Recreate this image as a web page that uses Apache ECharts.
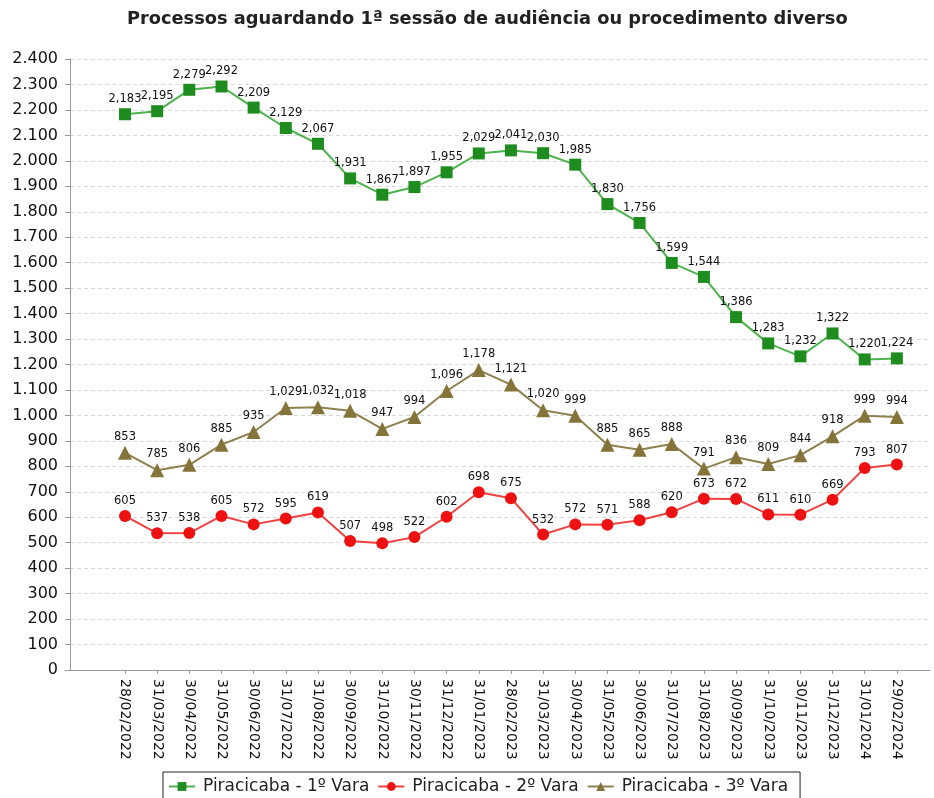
<!DOCTYPE html>
<html>
<head>
<meta charset="utf-8">
<script src="https://cdn.jsdelivr.net/npm/echarts@6/dist/echarts.min.js"></script>
<style>html,body{margin:0;padding:0;background:#fff}#c{width:934px;height:798px}</style>
</head>
<body>
<div id="c"></div>
<script>
const dates = ['28/02/2022','31/03/2022','30/04/2022','31/05/2022','30/06/2022','31/07/2022','31/08/2022','30/09/2022','31/10/2022','30/11/2022','31/12/2022','31/01/2023','28/02/2023','31/03/2023','30/04/2023','31/05/2023','30/06/2023','31/07/2023','31/08/2023','30/09/2023','31/10/2023','30/11/2023','31/12/2023','31/01/2024','29/02/2024'];
const vara1 = [2183,2195,2279,2292,2209,2129,2067,1931,1867,1897,1955,2029,2041,2030,1985,1830,1756,1599,1544,1386,1283,1232,1322,1220,1224];
const vara2 = [605,537,538,605,572,595,619,507,498,522,602,698,675,532,572,571,588,620,673,672,611,610,669,793,807];
const vara3 = [853,785,806,885,935,1029,1032,1018,947,994,1096,1178,1121,1020,999,885,865,888,791,836,809,844,918,999,994];
const seriesNames = ['Piracicaba - 1º Vara','Piracicaba - 2º Vara','Piracicaba - 3º Vara'];
const titleText = 'Processos aguardando 1ª sessão de audiência ou procedimento diverso';

const idx = dates.map((d, i) => i);
const toPairs = arr => arr.map((v, i) => [i, v]);
const fmtComma = v => String(v).replace(/\B(?=(\d{3})+(?!\d))/g, ',');
const fmtDot = v => String(v).replace(/\B(?=(\d{3})+(?!\d))/g, '.');

const labelStyle = {
  show: true, position: 'top', distance: 3,
  fontFamily: 'DejaVu Sans', fontSize: 11.5, color: '#111',
  formatter: p => fmtComma(p.value[1])
};

const chart = echarts.init(document.getElementById('c'), null, {renderer: 'canvas'});
chart.setOption({
  animation: false,
  backgroundColor: '#fff',
  title: {
    text: titleText, left: 122, top: 5,
    textStyle: {fontFamily: 'DejaVu Sans', fontWeight: 'bold', fontSize: 17.8, color: '#222'}
  },
  legend: {
    left: 163, top: 772,
    padding: [6, 12, 10, 5],
    borderColor: '#222', borderWidth: 1,
    itemWidth: 26, itemHeight: 11, itemGap: 8,
    textStyle: {fontFamily: 'DejaVu Sans', fontSize: 17, color: '#222', padding: [0, 0, 0, 3]},
    data: seriesNames
  },
  grid: {left: 70, right: 4, top: 59, bottom: 128, containLabel: false},
  xAxis: {
    type: 'value', min: -1.71, max: 25.03,
    axisLine: {show: true, lineStyle: {color: '#999'}},
    axisTick: {show: true, customValues: idx, length: 4, lineStyle: {color: '#999'}},
    splitLine: {show: false},
    axisLabel: {
      customValues: idx, rotate: -90, margin: 9,
      fontFamily: 'DejaVu Sans', fontSize: 14, color: '#111',
      formatter: v => dates[Math.round(v)]
    }
  },
  yAxis: {
    type: 'value', min: 0, max: 2400, interval: 100,
    axisLine: {show: true, onZero: false, lineStyle: {color: '#999'}},
    axisTick: {show: true, length: 5, lineStyle: {color: '#999'}},
    splitLine: {show: true, lineStyle: {color: '#d8d8d8', type: [4, 3]}},
    axisLabel: {margin: 12, fontFamily: 'DejaVu Sans', fontSize: 16, color: '#111', formatter: v => fmtDot(v)}
  },
  series: [
    {name: seriesNames[0], type: 'line', data: toPairs(vara1), symbol: 'rect', symbolSize: 12,
     itemStyle: {color: '#1f8c1f'}, lineStyle: {color: '#4db34d', width: 2}, label: labelStyle, z: 3},
    {name: seriesNames[1], type: 'line', data: toPairs(vara2), symbol: 'circle', symbolSize: 12,
     itemStyle: {color: '#ee1111'}, lineStyle: {color: '#f04040', width: 2}, label: labelStyle, z: 3},
    {name: seriesNames[2], type: 'line', data: toPairs(vara3), symbol: 'triangle', symbolSize: 14,
     itemStyle: {color: '#85743a'}, lineStyle: {color: '#8f8050', width: 2}, label: labelStyle, z: 3}
  ]
});
</script>
</body>
</html>
